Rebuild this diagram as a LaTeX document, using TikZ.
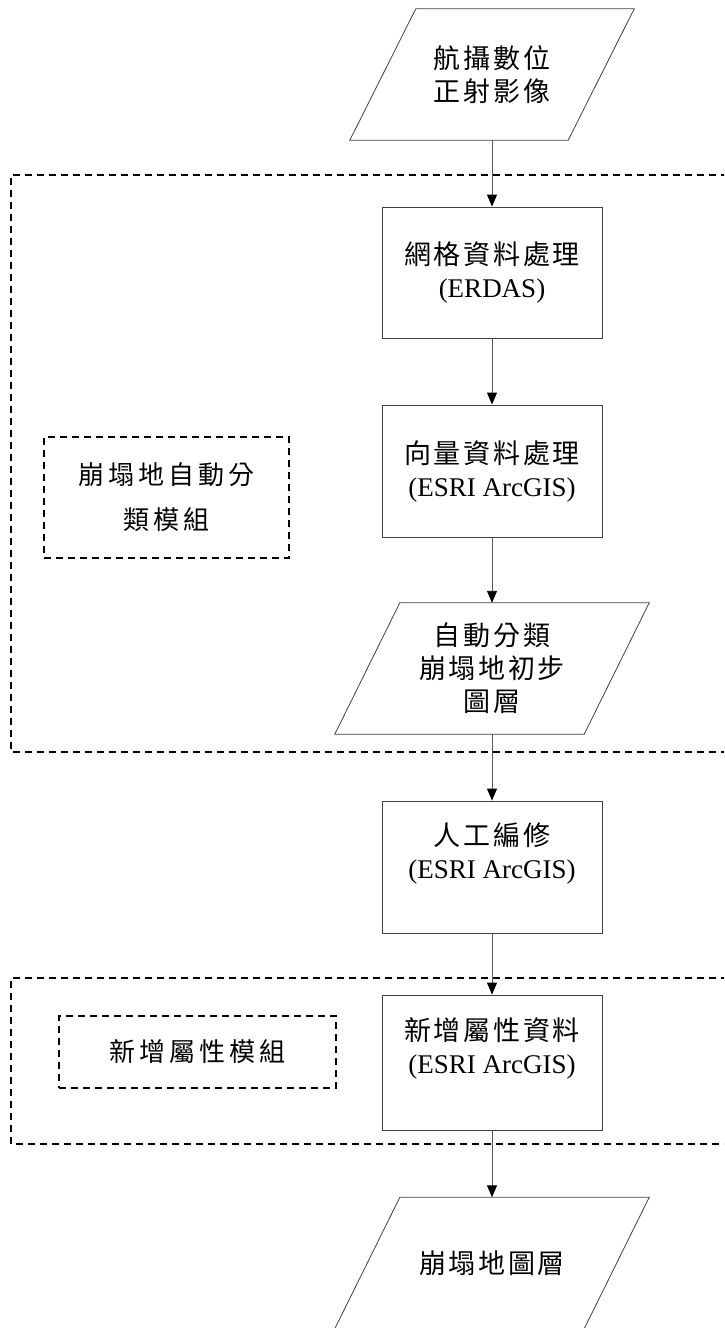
\documentclass[tikz,border=0pt]{standalone}
\usepackage{fontspec}
\setmainfont{Liberation Serif}
\newfontfamily\cjk[LetterSpace=10]{Noto Sans CJK TC}
\newfontfamily\cjkwide[LetterSpace=16]{Noto Sans CJK TC}
\usetikzlibrary{arrows.meta}

% parallelogram round a data node: #1 node name, #2 half slant
\newcommand{\dataframe}[2]{%
  \draw[dataline] ([xshift=#2]#1.north west) -- ([xshift=#2]#1.north east)
    -- ([xshift=-#2]#1.south east) -- ([xshift=-#2]#1.south west) -- cycle;}

\tikzset{
  procbox/.style={draw=black!75, line width=0.8pt, minimum width=220pt, minimum height=132pt,
    align=center, inner sep=0pt, font=\fontsize{27}{33}\selectfont},
  databox/.style={minimum height=131pt, align=center, inner sep=0pt,
    font=\fontsize{27}{33}\selectfont},
  dataline/.style={draw=black!75, line width=0.8pt},
  modbox/.style={draw, line width=1.4pt, dash pattern=on 7pt off 5pt, inner sep=0pt,
    align=center, font=\fontsize{26}{45}\selectfont},
  modline/.style={draw, line width=1.4pt, dash pattern=on 7pt off 5pt},
  flow/.style={draw=black!65, line width=0.9pt, -{Triangle[length=12pt,width=10pt,black]}}
}

\begin{document}
\begin{tikzpicture}[x=1pt,y=-1pt]
    \path[use as bounding box] (0,0) rectangle (724,1328);
    \clip (0,0) rectangle (724,1328);
    % module frames
    \draw[modline] (740,175) -| (11,752) -- (740,752);
    \draw[modline] (740,978) -| (11,1144) -- (740,1144);
    \node[modbox, minimum width=245pt, minimum height=121pt] (classmod) at (166.5,497.5)
      {\cjkwide 崩塌地自動分\\\cjkwide 類模組};
    \node[modbox, minimum width=277pt, minimum height=72pt] (attrmod) at (197.5,1052)
      {\cjkwide 新增屬性模組};
    % flow
    \node[databox, minimum width=218pt] (ortho) at (492,74.5) {\cjk 航攝數位\\\cjk 正射影像};
    \node[procbox, minimum height=131pt] (raster) at (492,272.5) {\cjk 網格資料處理\\(ERDAS)};
    \node[procbox] (vector) at (492,471) {\cjk 向量資料處理\\(ESRI ArcGIS)};
    \node[databox, minimum width=249pt] (autocls) at (492,668.5)
      {\cjk 自動分類\\\cjk 崩塌地初步\\\cjk 圖層};
    \node[procbox] (manual) at (492,867) {\cjk 人工編修\\(ESRI ArcGIS)\\ };
    \node[procbox, minimum height=135pt] (attr) at (492,1062.5) {\cjk 新增屬性資料\\(ESRI ArcGIS)\\ };
    \node[databox, minimum width=249pt] (slide) at (492,1263) {\cjk 崩塌地圖層};
    \dataframe{ortho}{33pt}
    \dataframe{autocls}{32.5pt}
    \dataframe{slide}{32.5pt}
    \draw[flow] (ortho) -- (raster);
    \draw[flow] (raster) -- (vector);
    \draw[flow] (vector) -- (autocls);
    \draw[flow] (autocls) -- (manual);
    \draw[flow] (manual) -- (attr);
    \draw[flow] (attr) -- (slide);
  \end{tikzpicture}
\end{document}
